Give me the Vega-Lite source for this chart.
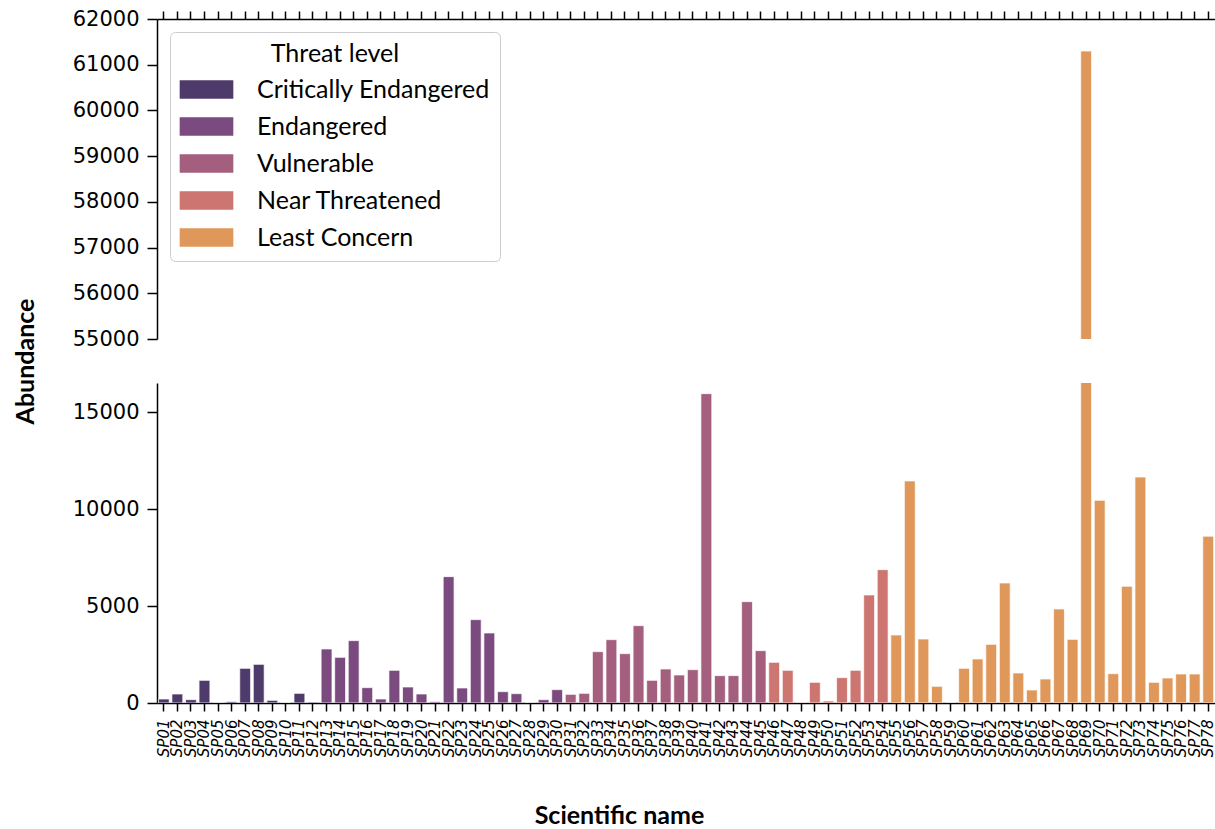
{
  "$schema": "https://vega.github.io/schema/vega-lite/v6.json",
  "padding": {"left": 13, "top": 8, "right": 0, "bottom": 0},
  "background": "white",
  "config": {"view": {"stroke": null}, "font": "Lato"},
  "bounds": "flush",
  "spacing": 44,
  "data": {"values": [
    {"sp": "SP01", "v": 206, "t": "Critically Endangered"},
    {"sp": "SP02", "v": 464, "t": "Critically Endangered"},
    {"sp": "SP03", "v": 172, "t": "Critically Endangered"},
    {"sp": "SP04", "v": 1169, "t": "Critically Endangered"},
    {"sp": "SP05", "v": 0, "t": "Critically Endangered"},
    {"sp": "SP06", "v": 69, "t": "Critically Endangered"},
    {"sp": "SP07", "v": 1788, "t": "Critically Endangered"},
    {"sp": "SP08", "v": 1994, "t": "Critically Endangered"},
    {"sp": "SP09", "v": 138, "t": "Critically Endangered"},
    {"sp": "SP10", "v": 0, "t": "Critically Endangered"},
    {"sp": "SP11", "v": 498, "t": "Critically Endangered"},
    {"sp": "SP12", "v": 52, "t": "Critically Endangered"},
    {"sp": "SP13", "v": 2785, "t": "Endangered"},
    {"sp": "SP14", "v": 2355, "t": "Endangered"},
    {"sp": "SP15", "v": 3215, "t": "Endangered"},
    {"sp": "SP16", "v": 791, "t": "Endangered"},
    {"sp": "SP17", "v": 206, "t": "Endangered"},
    {"sp": "SP18", "v": 1685, "t": "Endangered"},
    {"sp": "SP19", "v": 825, "t": "Endangered"},
    {"sp": "SP20", "v": 464, "t": "Endangered"},
    {"sp": "SP21", "v": 69, "t": "Endangered"},
    {"sp": "SP22", "v": 6515, "t": "Endangered"},
    {"sp": "SP23", "v": 774, "t": "Endangered"},
    {"sp": "SP24", "v": 4298, "t": "Endangered"},
    {"sp": "SP25", "v": 3610, "t": "Endangered"},
    {"sp": "SP26", "v": 584, "t": "Endangered"},
    {"sp": "SP27", "v": 481, "t": "Endangered"},
    {"sp": "SP28", "v": 0, "t": "Endangered"},
    {"sp": "SP29", "v": 172, "t": "Endangered"},
    {"sp": "SP30", "v": 688, "t": "Endangered"},
    {"sp": "SP31", "v": 447, "t": "Vulnerable"},
    {"sp": "SP32", "v": 498, "t": "Vulnerable"},
    {"sp": "SP33", "v": 2647, "t": "Vulnerable"},
    {"sp": "SP34", "v": 3266, "t": "Vulnerable"},
    {"sp": "SP35", "v": 2544, "t": "Vulnerable"},
    {"sp": "SP36", "v": 3988, "t": "Vulnerable"},
    {"sp": "SP37", "v": 1169, "t": "Vulnerable"},
    {"sp": "SP38", "v": 1753, "t": "Vulnerable"},
    {"sp": "SP39", "v": 1444, "t": "Vulnerable"},
    {"sp": "SP40", "v": 1719, "t": "Vulnerable"},
    {"sp": "SP41", "v": 15950, "t": "Vulnerable"},
    {"sp": "SP42", "v": 1410, "t": "Vulnerable"},
    {"sp": "SP43", "v": 1410, "t": "Vulnerable"},
    {"sp": "SP44", "v": 5226, "t": "Vulnerable"},
    {"sp": "SP45", "v": 2699, "t": "Vulnerable"},
    {"sp": "SP46", "v": 2097, "t": "Near Threatened"},
    {"sp": "SP47", "v": 1685, "t": "Near Threatened"},
    {"sp": "SP48", "v": 35, "t": "Near Threatened"},
    {"sp": "SP49", "v": 1066, "t": "Near Threatened"},
    {"sp": "SP50", "v": 103, "t": "Near Threatened"},
    {"sp": "SP51", "v": 1306, "t": "Near Threatened"},
    {"sp": "SP52", "v": 1685, "t": "Near Threatened"},
    {"sp": "SP53", "v": 5570, "t": "Near Threatened"},
    {"sp": "SP54", "v": 6876, "t": "Near Threatened"},
    {"sp": "SP55", "v": 3507, "t": "Least Concern"},
    {"sp": "SP56", "v": 11450, "t": "Least Concern"},
    {"sp": "SP57", "v": 3300, "t": "Least Concern"},
    {"sp": "SP58", "v": 860, "t": "Least Concern"},
    {"sp": "SP59", "v": 0, "t": "Least Concern"},
    {"sp": "SP60", "v": 1788, "t": "Least Concern"},
    {"sp": "SP61", "v": 2269, "t": "Least Concern"},
    {"sp": "SP62", "v": 3025, "t": "Least Concern"},
    {"sp": "SP63", "v": 6188, "t": "Least Concern"},
    {"sp": "SP64", "v": 1547, "t": "Least Concern"},
    {"sp": "SP65", "v": 670, "t": "Least Concern"},
    {"sp": "SP66", "v": 1238, "t": "Least Concern"},
    {"sp": "SP67", "v": 4848, "t": "Least Concern"},
    {"sp": "SP68", "v": 3283, "t": "Least Concern"},
    {"sp": "SP69", "v": 61300, "t": "Least Concern"},
    {"sp": "SP70", "v": 10450, "t": "Least Concern"},
    {"sp": "SP71", "v": 1513, "t": "Least Concern"},
    {"sp": "SP72", "v": 6017, "t": "Least Concern"},
    {"sp": "SP73", "v": 11650, "t": "Least Concern"},
    {"sp": "SP74", "v": 1066, "t": "Least Concern"},
    {"sp": "SP75", "v": 1289, "t": "Least Concern"},
    {"sp": "SP76", "v": 1496, "t": "Least Concern"},
    {"sp": "SP77", "v": 1496, "t": "Least Concern"},
    {"sp": "SP78", "v": 8600, "t": "Least Concern"}
  ]},
  "resolve": {"legend": {"color": "independent"}, "scale": {"color": "independent"}},
  "vconcat": [
    {
      "width": 1058,
      "height": 320,
      "mark": {"type": "bar", "clip": true, "stroke": "white", "strokeWidth": 1, "strokeOpacity": 0.7},
      "encoding": {
        "x": {
          "field": "sp", "type": "nominal", "sort": null,
          "scale": {"paddingInner": 0.2, "paddingOuter": 0.1},
          "axis": {"orient": "top", "labels": false, "title": null, "ticks": true, "tickSize": 8,
                   "domainColor": "black", "tickColor": "black", "domainWidth": 1.5, "tickWidth": 1.5}
        },
        "y": {
          "field": "v", "type": "quantitative",
          "scale": {"domain": [55000, 62000], "zero": false, "nice": false},
          "axis": {"values": [55000, 56000, 57000, 58000, 59000, 60000, 61000, 62000], "title": null, "grid": false,
                   "labelFont": "DejaVu Sans", "labelFontSize": 21, "labelColor": "black", "labelFlush": false,
                   "tickSize": 10, "labelPadding": 8, "domainColor": "black", "tickColor": "black",
                   "domainWidth": 1.5, "tickWidth": 1.5, "format": "d"}
        },
        "color": {
          "field": "t", "type": "nominal",
          "scale": {"domain": ["Critically Endangered", "Endangered", "Vulnerable", "Near Threatened", "Least Concern"],
                    "range": ["#4f3b6b", "#7b4a7e", "#a45e7e", "#cc7571", "#df985a"]},
          "legend": {
            "title": "Threat level", "orient": "top-left", "offset": 13,
            "titleFont": "Lato", "titleFontSize": 25, "titleFontWeight": "normal", "titleColor": "black",
            "titleAnchor": "middle", "titlePadding": 4, "titleLimit": 500,
            "labelFont": "Lato", "labelFontSize": 25, "labelColor": "black", "labelLimit": 500,
            "symbolType": "M-1.45,-0.5H1.45V0.5H-1.45Z", "symbolSize": 1369, "symbolStrokeWidth": 0,
            "symbolOffset": 8, "labelOffset": 32, "rowPadding": 5, "padding": 10,
            "strokeColor": "#cccccc", "fillColor": "white", "cornerRadius": 5
          }
        }
      }
    },
    {
      "width": 1058,
      "height": 320,
      "mark": {"type": "bar", "clip": true, "stroke": "white", "strokeWidth": 1, "strokeOpacity": 0.7},
      "encoding": {
        "x": {
          "field": "sp", "type": "nominal", "sort": null,
          "scale": {"paddingInner": 0.2, "paddingOuter": 0.1},
          "axis": {"orient": "bottom", "title": "Scientific name", "titleFont": "Lato", "titleFontSize": 25,
                   "titleFontWeight": "bold", "titleColor": "black", "titleX": 462, "titleY": 112,
                   "titleBaseline": "middle", "titleAlign": "center",
                   "labelAngle": -90, "labelFont": "DejaVu Sans", "labelFontStyle": "italic", "labelFontSize": 15,
                   "labelColor": "black", "labelPadding": 8, "tickSize": 8,
                   "domainColor": "black", "tickColor": "black", "domainWidth": 1.5, "tickWidth": 1.5}
        },
        "y": {
          "field": "v", "type": "quantitative",
          "scale": {"domain": [0, 16500], "nice": false},
          "axis": {"values": [0, 5000, 10000, 15000], "title": "Abundance", "grid": false,
                   "titleFont": "Lato", "titleFontSize": 25, "titleFontWeight": "bold", "titleColor": "black",
                   "titleX": -132, "titleY": -22, "titleAngle": 270, "titleAlign": "center", "titleBaseline": "middle",
                   "labelFont": "DejaVu Sans", "labelFontSize": 21, "labelColor": "black", "labelFlush": false,
                   "tickSize": 10, "labelPadding": 8, "domainColor": "black", "tickColor": "black",
                   "domainWidth": 1.5, "tickWidth": 1.5, "format": "d"}
        },
        "color": {
          "field": "t", "type": "nominal",
          "scale": {"domain": ["Critically Endangered", "Endangered", "Vulnerable", "Near Threatened", "Least Concern"],
                    "range": ["#4f3b6b", "#7b4a7e", "#a45e7e", "#cc7571", "#df985a"]},
          "legend": null
        }
      }
    }
  ]
}
